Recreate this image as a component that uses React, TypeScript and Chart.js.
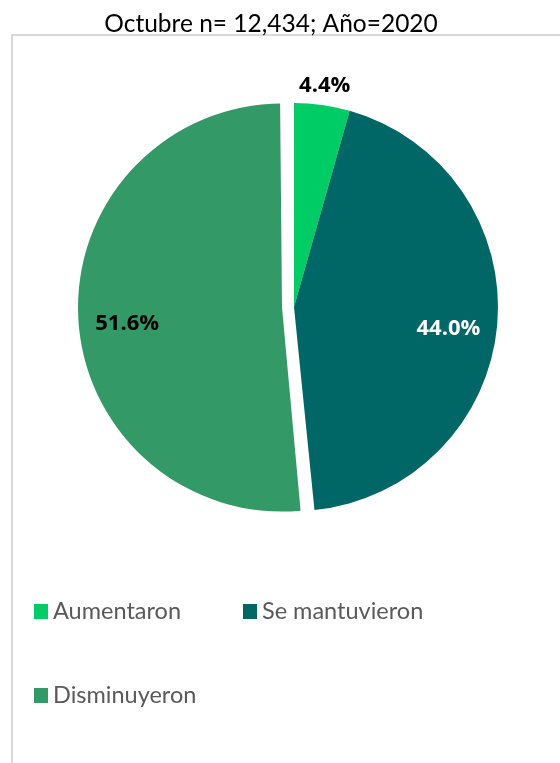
import React, { useEffect, useRef } from 'react';
import { Chart, registerables } from 'chart.js';

Chart.register(...registerables);

const TITLE = 'Octubre n= 12,434; Año=2020';
const categories = ['Aumentaron', 'Se mantuvieron', 'Disminuyeron'];
const values = [4.4, 44.0, 51.6];
const sliceColors = ['#00CC66', '#006666', '#339966'];
const labelColors = ['#000000', '#FFFFFF', '#000000'];
const sliceOffsets = [0, 0, 48];

const FONT = 'Lato, "Open Sans", sans-serif';
const LABEL_FONT = '"Open Sans", Lato, sans-serif';

const decorPlugin = {
  id: 'decor',
  afterUpdate(chart: any) {
    const meta = chart.getDatasetMeta(0);
    meta.data.forEach((el: any, i: number) => {
      const off = (sliceOffsets[i] || 0) / 4;
      if (off > 0 && el.circumference >= Math.PI) {
        el.outerRadius = el.outerRadius - off;
      }
    });
  },
  beforeDraw(chart: any) {
    const ctx = chart.ctx;
    ctx.save();
    ctx.fillStyle = '#FFFFFF';
    ctx.fillRect(0, 0, chart.width, chart.height);
    // frame
    ctx.strokeStyle = '#D9D9D9';
    ctx.lineWidth = 2;
    ctx.beginPath();
    ctx.moveTo(12, chart.height);
    ctx.lineTo(12, 35);
    ctx.lineTo(chart.width, 35);
    ctx.stroke();
    // title
    ctx.fillStyle = '#000000';
    ctx.font = `24.5px ${FONT}`;
    ctx.textAlign = 'center';
    ctx.textBaseline = 'alphabetic';
    ctx.fillText(TITLE, 271, 32);
    // legend
    const colX = [34, 243];
    const rowBase = [619, 703];
    const labels = chart.data.labels as string[];
    const bg = chart.data.datasets[0].backgroundColor as string[];
    labels.forEach((lab, i) => {
      const col = i % 2;
      const row = Math.floor(i / 2);
      const x = colX[col];
      const base = rowBase[row];
      ctx.fillStyle = bg[i];
      ctx.fillRect(x, base - 15, 14, 15);
      ctx.fillStyle = '#595959';
      ctx.font = `23.5px ${FONT}`;
      ctx.textAlign = 'left';
      ctx.textBaseline = 'alphabetic';
      ctx.fillText(lab, x + 19, base);
    });
    ctx.restore();
  },
  afterDatasetsDraw(chart: any) {
    const ctx = chart.ctx;
    const meta = chart.getDatasetMeta(0);
    const data = chart.data.datasets[0].data as number[];
    const R = meta.data[0].outerRadius;
    ctx.save();
    ctx.font = `bold 22px ${LABEL_FONT}`;
    ctx.textAlign = 'center';
    ctx.textBaseline = 'middle';
    meta.data.forEach((el: any, i: number) => {
      const mid = (el.startAngle + el.endAngle) / 2;
      const off = (sliceOffsets[i] || 0) / 4;
      const cx = el.x + Math.cos(mid) * off;
      const cy = el.y + Math.sin(mid) * off;
      const outside = data[i] < 10;
      const r = outside ? R + 19 : R * 0.76;
      const x = cx + Math.cos(mid) * r;
      const y = cy + Math.sin(mid) * r + (outside ? 0 : 8);
      ctx.fillStyle = labelColors[i];
      ctx.fillText(data[i].toFixed(1) + '%', x, y);
    });
    ctx.restore();
  },
};

export default function App() {
  const ref = useRef<HTMLCanvasElement | null>(null);
  useEffect(() => {
    if (!ref.current) return;
    const chart = new Chart(ref.current, {
      type: 'pie',
      data: {
        labels: categories,
        datasets: [
          {
            data: values,
            backgroundColor: sliceColors,
            borderWidth: 0,
            offset: sliceOffsets,
            hoverOffset: 0,
            radius: 204,
          } as any,
        ],
      },
      options: {
        responsive: false,
        animation: false,
        layout: { padding: { left: 44, right: 16, top: 57, bottom: 206 } },
        plugins: {
          legend: { display: false },
          title: { display: false },
          tooltip: { enabled: false },
        },
      },
      plugins: [decorPlugin],
    });
    return () => chart.destroy();
  }, []);
  return (
    <div style={{ position: 'absolute', left: 0, top: 0, width: 560, height: 763, background: '#fff' }}>
      <canvas ref={ref} width={560} height={763} style={{ display: 'block' }} />
    </div>
  );
}
